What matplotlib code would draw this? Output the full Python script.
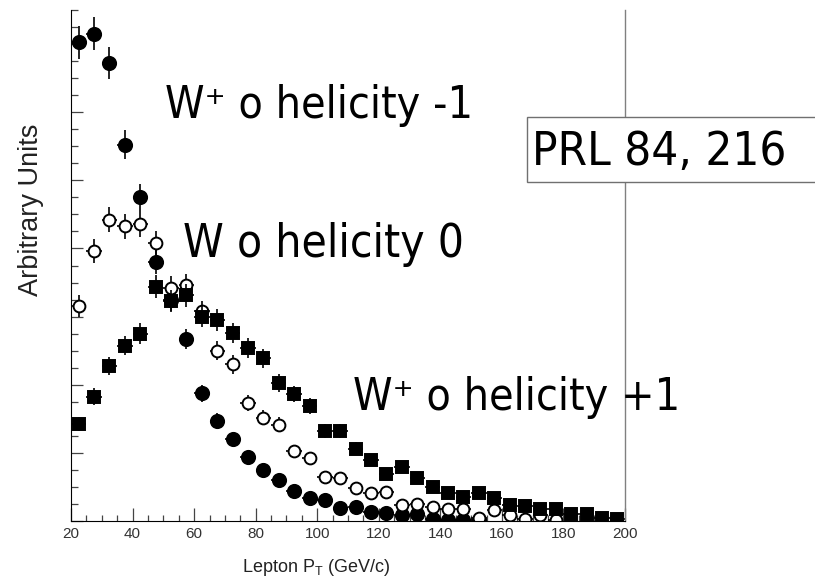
import matplotlib
matplotlib.use("Agg")
import matplotlib.pyplot as plt
from matplotlib.ticker import MultipleLocator
from matplotlib.patches import Rectangle

# lepton pT bin centres (GeV/c), 5 GeV bins
pt_bins = [22.5, 27.5, 32.5, 37.5, 42.5, 47.5, 52.5, 57.5, 62.5, 67.5,
           72.5, 77.5, 82.5, 87.5, 92.5, 97.5, 102.5, 107.5, 112.5, 117.5,
           122.5, 127.5, 132.5, 137.5, 142.5, 147.5, 152.5, 157.5, 162.5, 167.5,
           172.5, 177.5, 182.5, 187.5, 192.5, 197.5]

# W+ helicity -1 (filled circles)
hel_m1 = [28.1, 28.6, 26.9, 22.1, 19.0, 15.2, 13.0, 10.7, 7.5, 5.9,
          4.8, 3.75, 3.0, 2.4, 1.75, 1.35, 1.25, 0.75, 0.8, 0.5,
          0.45, 0.35, 0.4, 0.1, 0.08, 0.06, 0.05]
err_m1 = [0.95, 0.96, 0.93, 0.85, 0.78, 0.70, 0.65, 0.59, 0.49, 0.44,
          0.39, 0.35, 0.31, 0.28, 0.24, 0.21, 0.20, 0.16, 0.16, 0.13,
          0.12, 0.11, 0.11, 0.05, 0.05, 0.04, 0.04]

# W helicity 0 (open circles)
hel_0 = [12.6, 15.85, 17.7, 17.3, 17.45, 16.3, 13.7, 13.85, 12.3, 10.0,
         9.2, 6.9, 6.05, 5.65, 4.1, 3.7, 2.6, 2.5, 1.95, 1.65,
         1.7, 0.95, 1.0, 0.8, 0.7, 0.7, 0.15, 0.65, 0.35, 0.1,
         0.35, 0.05]
err_0 = [0.64, 0.72, 0.76, 0.75, 0.75, 0.73, 0.67, 0.67, 0.63, 0.57,
         0.55, 0.47, 0.44, 0.43, 0.36, 0.35, 0.29, 0.28, 0.25, 0.23,
         0.23, 0.18, 0.18, 0.16, 0.15, 0.15, 0.07, 0.15, 0.11, 0.06,
         0.11, 0.04]

# W+ helicity +1 (filled squares)
hel_p1 = [5.7, 7.3, 9.1, 10.3, 11.0, 13.75, 12.9, 13.25, 12.0, 11.8,
          11.05, 10.15, 9.55, 8.1, 7.45, 6.75, 5.3, 5.3, 4.25, 3.6,
          2.75, 3.15, 2.5, 2.0, 1.65, 1.4, 1.65, 1.35, 0.95, 0.9,
          0.7, 0.7, 0.4, 0.4, 0.15, 0.1]
err_p1 = [0.43, 0.49, 0.54, 0.58, 0.60, 0.67, 0.65, 0.66, 0.62, 0.62,
          0.60, 0.57, 0.56, 0.51, 0.49, 0.47, 0.41, 0.41, 0.37, 0.34,
          0.30, 0.32, 0.28, 0.25, 0.23, 0.21, 0.23, 0.21, 0.18, 0.17,
          0.15, 0.15, 0.11, 0.11, 0.07, 0.06]

half_bin = 2.5
x_ticks = [20, 40, 60, 80, 100, 120, 140, 160, 180, 200]

W, H = 815, 579


def fx(px):
    return px / W


def fy(py):
    return 1 - py / H


fig = plt.figure(figsize=(W / 100, H / 100), dpi=100)
ax = fig.add_axes([fx(71), fy(521), (625 - 71) / W, (521 - 10) / H])

common = dict(fmt="none", ecolor="black", elinewidth=1.2, capsize=0)


def draw_series(values, errors, marker, face, ms):
    xs = pt_bins[:len(values)]
    ax.errorbar(xs, values, yerr=errors, xerr=half_bin, **common)
    ax.plot(xs, values, linestyle="none", marker=marker, ms=ms,
            mfc=face, mec="black", mew=1.4)


draw_series(hel_m1, err_m1, "o", "black", 9.5)
draw_series(hel_0, err_0, "o", "white", 8.5)
draw_series(hel_p1, err_p1, "s", "black", 8.5)

ax.set_xlim(20, 200)
ax.set_ylim(0, 30)
ax.set_xticks(x_ticks)
ax.xaxis.set_minor_locator(MultipleLocator(5))
ax.yaxis.set_major_locator(MultipleLocator(4))
ax.yaxis.set_minor_locator(MultipleLocator(1))

ax.tick_params(axis="both", which="both", direction="in", color="#444444")
ax.tick_params(axis="x", which="major", length=9.5, width=0.9,
               labelsize=11, labelcolor="#333333", pad=4)
ax.tick_params(axis="x", which="minor", length=4.3, width=0.9)
ax.tick_params(axis="y", which="major", length=8.6, width=0.9, labelleft=False)
ax.tick_params(axis="y", which="minor", length=5, width=0.9)
for lab in ax.get_xticklabels():
    lab.set_family("Liberation Sans")

ax.spines["top"].set_visible(False)
ax.spines["left"].set_color("black")
ax.spines["bottom"].set_color("black")
ax.spines["right"].set_color("#808080")
ax.spines["right"].set_linewidth(1.0)

fig.text(fx(316), fy(567), "Lepton P$_\\mathregular{T}$ (GeV/c)",
         family="Liberation Sans", fontsize=13, color="#222222",
         ha="center", va="center")
fig.text(fx(31), fy(210), "Arbitrary Units", family="Liberation Sans",
         fontsize=19.5, color="#222222", rotation=90, ha="center", va="center")

big = dict(family=["DejaVu Sans Condensed", "DejaVu Sans"],
           stretch="condensed", color="black", ha="left", va="baseline")
fig.text(fx(165), fy(118), "W\u207a o helicity -1", fontsize=32, **big)
fig.text(fx(183), fy(257), "W o helicity 0", fontsize=33, **big)
fig.text(fx(353), fy(410), "W\u207a o helicity +1", fontsize=32, **big)

fig.patches.append(Rectangle((fx(527), fy(182)), fx(830) - fx(527), fy(117) - fy(182),
                             transform=fig.transFigure, facecolor="white",
                             edgecolor="#707070", linewidth=1.0))
fig.text(fx(532), fy(165), "PRL 84, 216", fontsize=34, **big)

fig.savefig("out.png", dpi=100)
